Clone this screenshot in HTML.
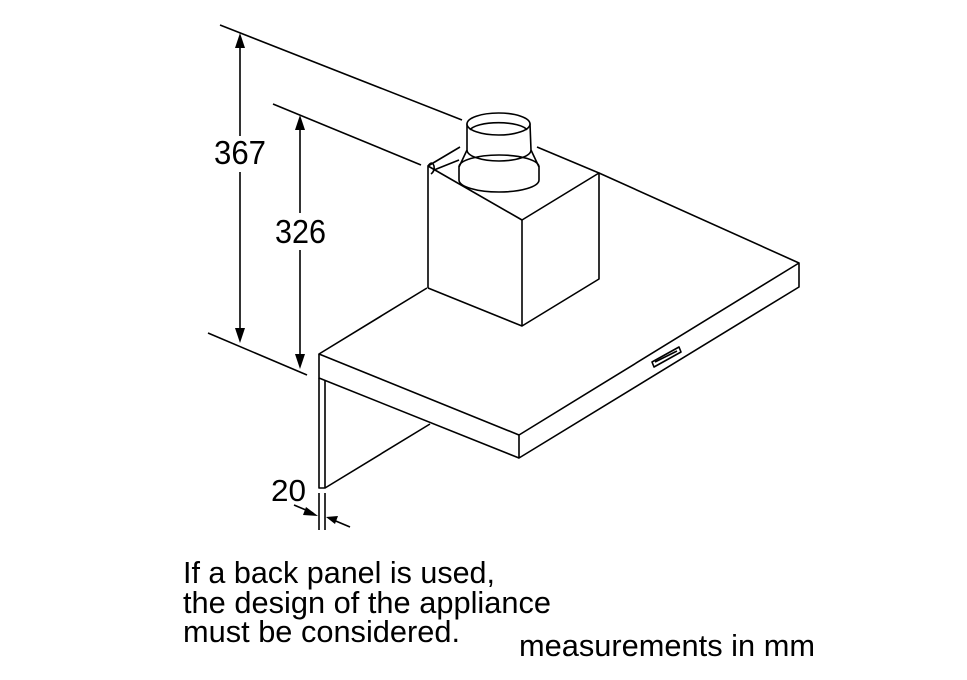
<!DOCTYPE html>
<html><head><meta charset="utf-8"><style>html,body{margin:0;padding:0;background:#fff}svg{display:block}</style></head>
<body>
<svg width="967" height="680" viewBox="0 0 967 680" xmlns="http://www.w3.org/2000/svg">
<g fill="none" stroke="#000" stroke-width="1.6" stroke-linejoin="round">
<!-- extension lines -->
<line x1="220" y1="25" x2="462" y2="120"/>
<line x1="273" y1="104" x2="421" y2="165"/>
<line x1="208" y1="333" x2="307" y2="375"/>
<!-- dimension lines -->
<line x1="240" y1="40" x2="240" y2="136"/>
<line x1="240" y1="172" x2="240" y2="338"/>
<line x1="300" y1="122" x2="300" y2="213"/>
<line x1="300" y1="250" x2="300" y2="364"/>
<!-- box -->
<polyline points="428,288 428,166 460,147"/>
<polyline points="428,166 522,220 599,173 599,279 522,326 428,288"/>
<line x1="522" y1="220" x2="522" y2="326"/>
<line x1="537" y1="147" x2="599" y2="173"/>
<path d="M428,166 q4,-6 6,0 q1,5 -3,8"/>
<line x1="434" y1="170" x2="459" y2="160"/>
<!-- cylinder -->
<path d="M459,167 L459,180 A40,12 0 0 0 539,180 L539,167 L531,150 L530,124 L467,124 L467,150 Z" fill="#fff"/>
<path d="M459,167 A40,12 0 0 1 539,167"/>
<path d="M467,150 A32,11 0 0 0 531,150"/>
<ellipse cx="498.5" cy="124" rx="31.5" ry="11" fill="#fff"/>
<path d="M470,130 A29,9 0 0 1 527,130"/>
<!-- hood -->
<polyline points="599,173 799,263 799,287 519,458 519,435 799,263"/>
<polyline points="427,288 319,354 519,435"/>
<polyline points="319,354 319,378 519,458"/>
<!-- back panel -->
<polyline points="319,378 319,488 325,488 325,381"/>
<line x1="325" y1="488" x2="430" y2="424"/>
<!-- control badge -->
<polygon points="652,362 679,347 681,352 654,367"/>
<line x1="655" y1="362" x2="677" y2="351"/>
<!-- 20 dim -->
<line x1="319" y1="493" x2="319" y2="530"/>
<line x1="325" y1="493" x2="325" y2="530"/>
<line x1="294" y1="505" x2="313" y2="513"/>
<line x1="331" y1="519" x2="350" y2="527"/>
</g>
<g fill="#000">
<polygon points="240,33 235,48 245,48"/>
<polygon points="240,343 235,328 245,328"/>
<polygon points="300,115 295,130 305,130"/>
<polygon points="300,369 295,354 305,354"/>
<polygon points="318,516 306,507 303,515"/>
<polygon points="326,517 338,516 335,524"/>
</g>
<g font-family="'Liberation Sans', Arial, sans-serif" fill="#000">
<text x="214" y="164" font-size="33" textLength="52" lengthAdjust="spacingAndGlyphs">367</text>
<text x="275" y="243" font-size="33" textLength="51" lengthAdjust="spacingAndGlyphs">326</text>
<text x="271" y="501" font-size="31" textLength="35" lengthAdjust="spacingAndGlyphs">20</text>
<text x="183" y="583" font-size="31" textLength="312" lengthAdjust="spacingAndGlyphs">If a back panel is used,</text>
<text x="183" y="613" font-size="31" textLength="368" lengthAdjust="spacingAndGlyphs">the design of the appliance</text>
<text x="183" y="642" font-size="31" textLength="277" lengthAdjust="spacingAndGlyphs">must be considered.</text>
<text x="519" y="656" font-size="31" textLength="296" lengthAdjust="spacingAndGlyphs">measurements in mm</text>
</g>
</svg>
</body></html>
